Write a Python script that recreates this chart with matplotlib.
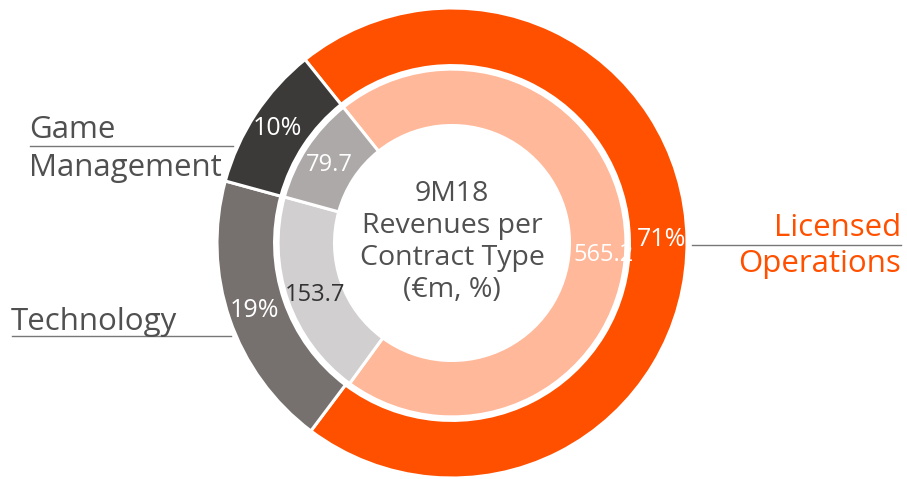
import matplotlib
matplotlib.use("Agg")
import matplotlib.pyplot as plt
from matplotlib.lines import Line2D
import numpy as np

# Data
categories = ["Licensed Operations", "Technology", "Game Management"]
outer_pct = [71, 19, 10]
inner_values = [565.2, 153.7, 79.7]
center_title = "9M18\nRevenues per\nContract Type\n(€m, %)"

outer_colors = ["#FF5000", "#76716F", "#3C3A38"]
inner_colors = ["#FFB899", "#D1CFD0", "#ADA9A8"]
inner_text_colors = ["white", "#333333", "white"]
# label baseline placement (axes data units, layout only)
inner_label_pos = [(0.643, -0.077), (-0.583, -0.247), (-0.521, 0.306)]

plt.rcParams['font.family'] = ['Open Sans', 'DejaVu Sans']

W, H = 907, 479
fig = plt.figure(figsize=(W / 100, H / 100), dpi=100)
cx, cy, R = 452, 243, 235
ax = fig.add_axes([(cx - R) / W, (H - cy - R) / H, 2 * R / W, 2 * R / H])
ax.set_aspect('equal')

start = 128.7

wedges_o, texts_o, autotexts_o = ax.pie(
    outer_pct, radius=1.0, colors=outer_colors, startangle=start, counterclock=False,
    wedgeprops=dict(width=0.245, edgecolor='white', linewidth=2.2),
    autopct=lambda p: f"{p:.0f}%", pctdistance=0.89,
    textprops=dict(color='white', fontsize=18))

wedges_i, texts_i = ax.pie(
    inner_values, radius=0.74, colors=inner_colors, startangle=start, counterclock=False,
    wedgeprops=dict(width=0.24, edgecolor='white', linewidth=2.2),
    labels=[f"{v:.1f}" for v in inner_values], labeldistance=0.88,
    textprops=dict(fontsize=17))
for t, c, p in zip(texts_i, inner_text_colors, inner_label_pos):
    t.set_color(c)
    t.set_ha('center')
    t.set_va('baseline')
    t.set_position(p)

ax.set_xlim(-1, 1)
ax.set_ylim(-1, 1)
ax.axis('off')

ax.text(0, 0.005, center_title, ha='center', va='center', fontsize=20.5,
        color='#505050', linespacing=1.2)

def fx(x):
    return x / W

def fy(y):
    return (H - y) / H

gray = '#505050'
fs = 22.5
# Game Management
fig.text(fx(29), fy(138), "Game", ha='left', va='baseline', fontsize=fs, color=gray)
fig.text(fx(29), fy(176), "Management", ha='left', va='baseline', fontsize=fs, color=gray)
fig.add_artist(Line2D([fx(30), fx(233)], [fy(146), fy(146)], color='#777777', lw=1))
# Technology
fig.text(fx(11), fy(330), "Technology", ha='left', va='baseline', fontsize=fs, color=gray)
fig.add_artist(Line2D([fx(12), fx(231)], [fy(336), fy(336)], color='#777777', lw=1))
# Licensed Operations
fig.text(fx(901), fy(236), "Licensed", ha='right', va='baseline', fontsize=fs, color='#FF5000')
fig.text(fx(901), fy(272), "Operations", ha='right', va='baseline', fontsize=fs, color='#FF5000')
fig.add_artist(Line2D([fx(692), fx(901)], [fy(245), fy(245)], color='#777777', lw=1))

fig.savefig("out.png", dpi=100)
